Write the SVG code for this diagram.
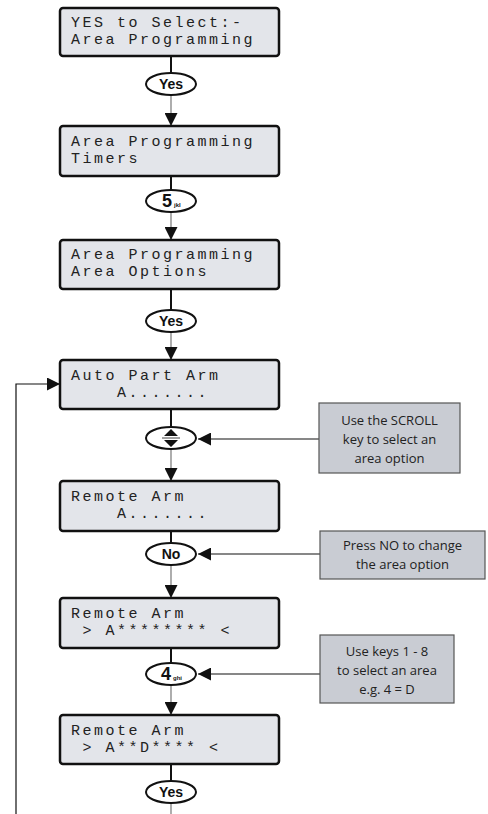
<svg xmlns="http://www.w3.org/2000/svg" width="488" height="814" viewBox="0 0 488 814">
<style>
.box{fill:#e3e5ea;stroke:#111;stroke-width:2.5}
.lcd{font-family:"Liberation Mono",monospace;font-size:15px;letter-spacing:2.5px;fill:#222;white-space:pre}
.key{fill:#fff;stroke:#111;stroke-width:2}
.kt{font-family:"Liberation Sans",Arial,sans-serif;font-weight:bold;font-size:14px;fill:#111;text-anchor:middle}
.sub{font-family:"Liberation Sans",Arial,sans-serif;font-weight:bold;font-size:6px;fill:#111}
.note{fill:#c9ccd3;stroke:#555;stroke-width:1.2}
.nt{font-family:"Open Sans",sans-serif;font-size:13px;fill:#222;text-anchor:middle}
.stem{stroke:#111;stroke-width:2}
.flow{stroke:#777;stroke-width:1.2}
.lead{stroke:#111;stroke-width:1.2;fill:none}
</style>
<defs>
<marker id="ah" viewBox="0 0 12 12" refX="12" refY="6" markerWidth="13" markerHeight="13" orient="auto" markerUnits="userSpaceOnUse"><path d="M0,0 L12,6 L0,12 z" fill="#111"/></marker>
</defs>
<g id="connectors">
<line class="stem" x1="171" y1="56" x2="171" y2="73"/>
<line class="flow" x1="171" y1="95" x2="171" y2="126" marker-end="url(#ah)"/>
<line class="stem" x1="171" y1="176" x2="171" y2="190"/>
<line class="flow" x1="171" y1="212" x2="171" y2="240" marker-end="url(#ah)"/>
<line class="stem" x1="171" y1="289" x2="171" y2="310"/>
<line class="flow" x1="171" y1="332" x2="171" y2="360" marker-end="url(#ah)"/>
<line class="stem" x1="171" y1="409" x2="171" y2="427"/>
<line class="flow" x1="171" y1="449" x2="171" y2="481" marker-end="url(#ah)"/>
<line class="stem" x1="171" y1="531" x2="171" y2="543"/>
<line class="flow" x1="171" y1="565" x2="171" y2="598" marker-end="url(#ah)"/>
<line class="stem" x1="171" y1="648" x2="171" y2="663"/>
<line class="flow" x1="171" y1="685" x2="171" y2="715" marker-end="url(#ah)"/>
<line class="stem" x1="171" y1="764" x2="171" y2="781"/>
<line class="flow" x1="171" y1="803" x2="171" y2="814"/>
<polyline class="lead" points="16,814 16,384 60,384" marker-end="url(#ah)"/>
<line class="lead" x1="319" y1="439" x2="198" y2="439" marker-end="url(#ah)"/>
<line class="lead" x1="320" y1="554" x2="198" y2="554" marker-end="url(#ah)"/>
<line class="lead" x1="320" y1="674" x2="198" y2="674" marker-end="url(#ah)"/>
</g>
<g id="box1"><rect class="box" x="60" y="8" width="219" height="48" rx="3"/><text class="lcd" x="71" y="27">YES to Select:-</text><text class="lcd" x="71" y="44">Area Programming</text></g>
<g id="key-yes1"><ellipse class="key" cx="171" cy="84" rx="25" ry="11"/><text class="kt" x="171" y="89">Yes</text></g>
<g id="box2"><rect class="box" x="60" y="126" width="219" height="50" rx="3"/><text class="lcd" x="71" y="146">Area Programming</text><text class="lcd" x="71" y="163">Timers</text></g>
<g id="key-5"><ellipse class="key" cx="171" cy="201" rx="25" ry="11"/><text class="kt" x="167" y="207" style="font-size:18px">5</text><text class="sub" x="174" y="207">jkl</text></g>
<g id="box3"><rect class="box" x="60" y="240" width="219" height="49" rx="3"/><text class="lcd" x="71" y="259">Area Programming</text><text class="lcd" x="71" y="276">Area Options</text></g>
<g id="key-yes2"><ellipse class="key" cx="171" cy="321" rx="25" ry="11"/><text class="kt" x="171" y="326">Yes</text></g>
<g id="box4"><rect class="box" x="60" y="360" width="219" height="49" rx="3"/><text class="lcd" x="71" y="380">Auto Part Arm</text><text class="lcd" x="71" y="397">    A.......</text></g>
<g id="key-scroll"><ellipse class="key" cx="171" cy="438" rx="25" ry="11"/><path d="M164,436 L178,436 L171,429 z M164,440 L178,440 L171,447 z" fill="#111"/><line x1="162" y1="438" x2="180" y2="438" stroke="#111" stroke-width="0.8"/></g>
<g id="box5"><rect class="box" x="60" y="481" width="219" height="50" rx="3"/><text class="lcd" x="71" y="501">Remote Arm</text><text class="lcd" x="71" y="518">    A.......</text></g>
<g id="key-no"><ellipse class="key" cx="171" cy="554" rx="25" ry="11"/><text class="kt" x="171" y="559">No</text></g>
<g id="box6"><rect class="box" x="60" y="598" width="219" height="50" rx="3"/><text class="lcd" x="71" y="618">Remote Arm</text><text class="lcd" x="71" y="635"> &gt; A******** &lt;</text></g>
<g id="key-4"><ellipse class="key" cx="171" cy="674" rx="25" ry="11"/><text class="kt" x="166" y="680" style="font-size:18px">4</text><text class="sub" x="173" y="680">ghi</text></g>
<g id="box7"><rect class="box" x="60" y="715" width="219" height="49" rx="3"/><text class="lcd" x="71" y="735">Remote Arm</text><text class="lcd" x="71" y="752"> &gt; A**D**** &lt;</text></g>
<g id="key-yes3"><ellipse class="key" cx="171" cy="792" rx="25" ry="11"/><text class="kt" x="171" y="797">Yes</text></g>
<g id="note-scroll"><rect class="note" x="319" y="403" width="141" height="70"/><text class="nt" x="389.5" y="425">Use the SCROLL</text><text class="nt" x="389.5" y="444">key to select an</text><text class="nt" x="389.5" y="463">area option</text></g>
<g id="note-no"><rect class="note" x="320" y="531" width="165" height="48"/><text class="nt" x="402.5" y="550">Press NO to change</text><text class="nt" x="402.5" y="569">the area option</text></g>
<g id="note-keys"><rect class="note" x="320" y="635" width="134" height="68"/><text class="nt" x="387" y="656">Use keys 1 - 8</text><text class="nt" x="387" y="675">to select an area</text><text class="nt" x="387" y="694">e.g. 4 = D</text></g>
</svg>
